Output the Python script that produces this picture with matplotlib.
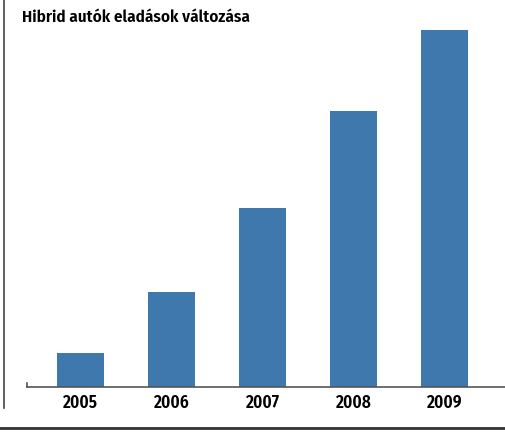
import matplotlib
matplotlib.use("Agg")
import matplotlib.pyplot as plt
from matplotlib.lines import Line2D

# Data
years = ["2005", "2006", "2007", "2008", "2009"]
sales = [34, 95, 179, 276, 357]

title = "Hibrid autók eladások változása"
bar_color = "#3E78AC"
font = ["Fira Sans Condensed", "PT Sans Narrow", "DejaVu Sans"]

W, H = 505, 432
fig = plt.figure(figsize=(W / 100, H / 100), dpi=100)

# axes: baseline at y=387px, left at x=27px, top at y=20px
ax = fig.add_axes([27 / W, (H - 387) / H, 1 - 27 / W, (387 - 20) / H])
ax.bar(range(len(years)), sales, width=0.52, color=bar_color, zorder=2)
ax.set_xlim(-0.588, 4.665)
ax.set_ylim(0, 367)

for s in ["top", "right", "left"]:
    ax.spines[s].set_visible(False)
ax.spines["bottom"].set_color("#555555")
ax.spines["bottom"].set_linewidth(1.2)
ax.set_yticks([])
ax.set_xticks(range(len(years)))
ax.set_xticklabels(years, fontfamily=font, fontweight="semibold", fontsize=12.5)
ax.tick_params(axis="x", length=0, pad=5)

# small tick at the left end of the baseline
ax.plot([-0.588, -0.588], [0, 4], color="#555555", lw=1.2, clip_on=False)

# frame lines of the figure
fig.add_artist(Line2D([3.5 / W, 3.5 / W], [1, (H - 408) / H], color="#444444", lw=1.2))
fig.add_artist(Line2D([0, 1], [(H - 428) / H, (H - 428) / H], color="#333333", lw=2))

fig.text(22 / W, 1 - 17 / H, title, fontfamily=font, fontweight="semibold",
         fontsize=12.3, va="center", ha="left")

fig.savefig("out.png", dpi=100)
